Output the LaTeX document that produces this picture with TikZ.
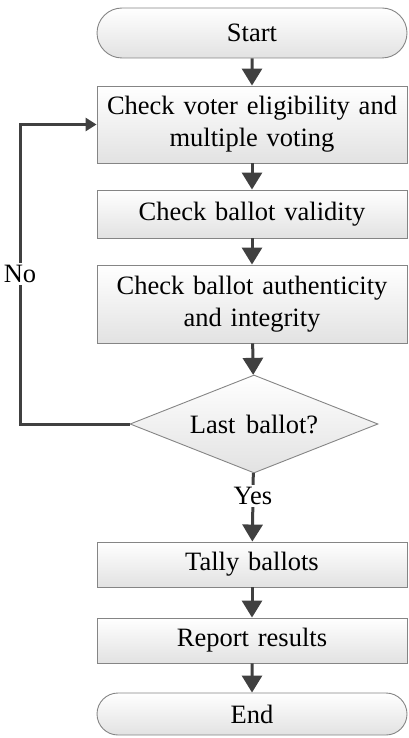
\documentclass[tikz,border=0pt]{standalone}
\usepackage{fontspec}
\setmainfont{Liberation Serif}
\newfontfamily\flowfont[WordSpace=1.6]{Liberation Serif}
\usetikzlibrary{shapes.geometric,shapes.misc,arrows.meta}

\definecolor{edgegray}{HTML}{858585}
\definecolor{flowline}{HTML}{404040}
\definecolor{shadebot}{HTML}{E2E2E2}

\tikzset{
  boxfill/.style={draw=edgegray, line width=0.9pt, top color=white, bottom color=shadebot},
  procbox/.style={boxfill, rectangle, minimum width=310pt, text width=306pt,
    align=center, inner sep=0pt},
  termbox/.style={boxfill, rounded rectangle, minimum width=310pt, inner sep=0pt},
  decbox/.style={boxfill, diamond, aspect=2.53, minimum width=248pt, minimum height=98pt, inner sep=0pt},
  flow/.style={draw=flowline, line width=3pt, -{Triangle[width=20pt,length=17pt]}},
  backflow/.style={draw=flowline, line width=3pt, -{Triangle[width=13pt,length=11pt]}},
  lbl/.style={fill=white, inner sep=2pt},
}

\begin{document}
\begin{tikzpicture}[x=1pt, y=-1pt, font=\flowfont\fontsize{26.5}{32}\selectfont]
  \useasboundingbox (0,0) rectangle (408,738);

  \node[termbox, minimum height=50pt] (start) at (252,33) {Start};
  \node[procbox, minimum height=77pt] (elig) at (252,124.5)
    {Check voter eligibility and\\multiple voting};
  \node[procbox, minimum height=48pt] (valid) at (252,214) {Check ballot validity};
  \node[procbox, minimum height=78pt] (auth) at (252,304)
    {Check ballot authenticity\\and integrity};
  \node[decbox] (last) at (254,424) {Last ballot?};
  \node[procbox, minimum height=45pt] (tally) at (252,564.5) {Tally ballots};
  \node[procbox, minimum height=45pt] (report) at (252,640.5) {Report results};
  \node[termbox, minimum height=42pt] (end) at (252,714) {End};

  \coordinate (loopbot) at (20,424);
  \coordinate (looptop) at (20,124.5);

  \draw[flow] (start) -- (elig);
  \draw[flow] (elig) -- (valid);
  \draw[flow] (valid) -- (auth);
  \draw[flow] (auth) -- (last);
  \draw[flow] (last) -- node[lbl, pos=0.33] {Yes} (tally);
  \draw[flow] (tally) -- (report);
  \draw[flow] (report) -- (end);
  \draw[backflow] (last.west) -- (loopbot) -- node[lbl, pos=0.5] {No} (looptop) -- (elig.west);
\end{tikzpicture}
\end{document}
